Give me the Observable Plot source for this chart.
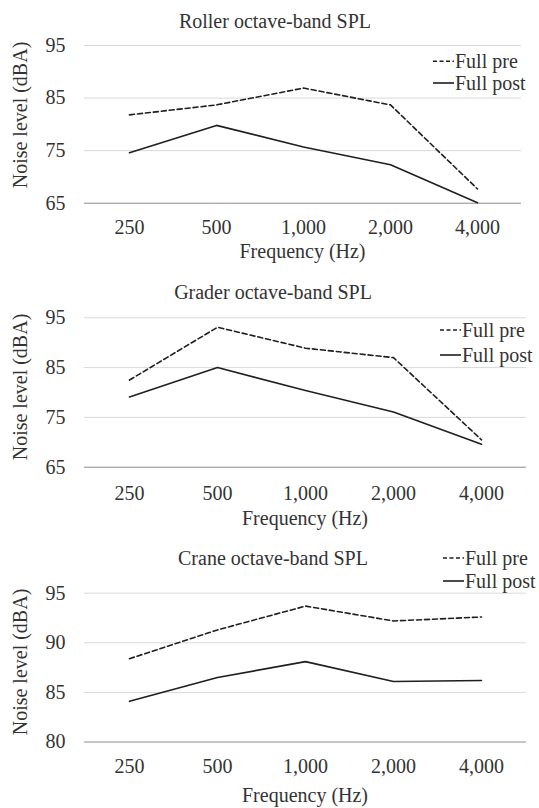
<!DOCTYPE html>
<html>
<head>
<meta charset="utf-8">
<script src="https://cdn.jsdelivr.net/npm/d3@7"></script>
<script src="https://cdn.jsdelivr.net/npm/@observablehq/plot@0.6"></script>
<style>
  html, body { margin: 0; padding: 0; background: #fff; }
  #root { width: 539px; height: 808px; overflow: hidden; background: #fff; }
  #root svg { display: block; }
  #root svg, #root svg text { font-family: "Liberation Serif", "LiberationSerif", "Times New Roman", "Times", "Nimbus Roman", "Nimbus Roman No9 L", "FreeSerif", "Noto Serif", "DejaVu Serif", "Noto Serif CJK SC", serif !important; }
</style>
</head>
<body>
<div id="root"></div>
<script>
// ---- data ----
const frequencies = ["250", "500", "1,000", "2,000", "4,000"];
const seriesNames = ["Full pre", "Full post"];

const rollerTitle = "Roller octave-band SPL";
const rollerPre  = [81.8, 83.7, 86.9, 83.7, 67.7];
const rollerPost = [74.6, 79.8, 75.7, 72.3, 65.1];
const rollerTicks = [65, 75, 85, 95];

const graderTitle = "Grader octave-band SPL";
const graderPre  = [82.5, 93.1, 88.9, 87.0, 70.5];
const graderPost = [79.1, 85.0, 80.4, 76.1, 69.6];
const graderTicks = [65, 75, 85, 95];

const craneTitle = "Crane octave-band SPL";
const cranePre  = [88.4, 91.3, 93.7, 92.2, 92.6];
const cranePost = [84.1, 86.5, 88.1, 86.1, 86.2];
const craneTicks = [80, 85, 90, 95];

const xAxisLabel = "Frequency (Hz)";
const yAxisLabel = "Noise level (dBA)";

// ---- layout (per panel) ----
const layouts = [
  {title: rollerTitle, pre: rollerPre, post: rollerPost, ticks: rollerTicks,
   height: 270, mt: 45, mb: 67.3, mr: 18, xPad: 17,
   titleX: 275, titleY: 28, xlabY: 258, ylabCY: 115, legX: 433, legY: [68.3, 90]},
  {title: graderTitle, pre: graderPre, post: graderPost, ticks: graderTicks,
   height: 270, mt: 47.3, mb: 73.3, mr: 13, xPad: 19,
   titleX: 273, titleY: 29, xlabY: 255, ylabCY: 117, legX: 440, legY: [67, 92]},
  {title: craneTitle, pre: cranePre, post: cranePost, ticks: craneTicks,
   height: 268, mt: 52.7, mb: 66.5, mr: 13, xPad: 17,
   titleX: 273, titleY: 25, xlabY: 261.6, ylabCY: 122, legX: 443, legY: [25, 48]}
];

const FONT = '"Liberation Serif", "Times New Roman", "Nimbus Roman", "FreeSerif", "Noto Serif", "DejaVu Serif", serif';
const TEXT = "#333333";
const LINE = "#1f1f1f";
const DASH = "5,3";

const root = document.getElementById("root");

for (const L of layouts) {
  const rows = [];
  frequencies.forEach((f, i) => {
    rows.push({freq: f, series: seriesNames[0], value: L.pre[i]});
    rows.push({freq: f, series: seriesNames[1], value: L.post[i]});
  });
  const preRows = rows.filter(d => d.series === seriesNames[0]);
  const postRows = rows.filter(d => d.series === seriesNames[1]);
  const yMin = d3.min(L.ticks), yMax = d3.max(L.ticks);

  const chart = Plot.plot({
    width: 539,
    height: L.height,
    marginTop: L.mt,
    marginBottom: L.mb,
    marginLeft: 84,
    marginRight: L.mr,
    style: `font-family: ${FONT}; font-size: 20px; color: ${TEXT}; background: #fff; overflow: visible;`,
    x: {type: "point", domain: frequencies, padding: 0.5, label: null},
    y: {domain: [yMin, yMax], label: null},
    marks: [
      Plot.gridY(L.ticks.filter(t => t !== yMin), {stroke: "#d9d9d9", strokeOpacity: 1, strokeWidth: 1}),
      Plot.ruleY([yMin], {stroke: "#8c8c8c", strokeWidth: 1}),
      Plot.axisY(L.ticks, {tickSize: 0, tickPadding: 19, label: null, fontSize: 20, fill: TEXT}),
      Plot.axisX({tickSize: 0, tickPadding: L.xPad, label: null, fontSize: 20, fill: TEXT}),
      Plot.lineY(preRows, {x: "freq", y: "value", stroke: LINE, strokeWidth: 1.6, strokeDasharray: DASH}),
      Plot.lineY(postRows, {x: "freq", y: "value", stroke: LINE, strokeWidth: 1.6})
    ]
  });

  const svg = d3.select(chart);
  const g = svg.append("g").attr("font-family", FONT).attr("font-size", 20).attr("fill", TEXT);
  g.append("text").attr("x", L.titleX).attr("y", L.titleY).attr("text-anchor", "middle").text(L.title);
  const fx = (84 + (539 - L.mr)) / 2;
  g.append("text").attr("x", fx).attr("y", L.xlabY).attr("text-anchor", "middle").text(xAxisLabel);
  g.append("text").attr("transform", `translate(26.5,${L.ylabCY}) rotate(-90)`).attr("text-anchor", "middle").text(yAxisLabel);
  seriesNames.forEach((name, i) => {
    const by = L.legY[i];
    g.append("line")
      .attr("x1", L.legX).attr("x2", L.legX + 21)
      .attr("y1", by - 7).attr("y2", by - 7)
      .attr("stroke", LINE).attr("stroke-width", 1.6)
      .attr("stroke-dasharray", i === 0 ? "4,2.5" : null);
    g.append("text").attr("x", L.legX + 22).attr("y", by).attr("text-anchor", "start").text(name);
  });

  root.appendChild(chart);
}
</script>
</body>
</html>
